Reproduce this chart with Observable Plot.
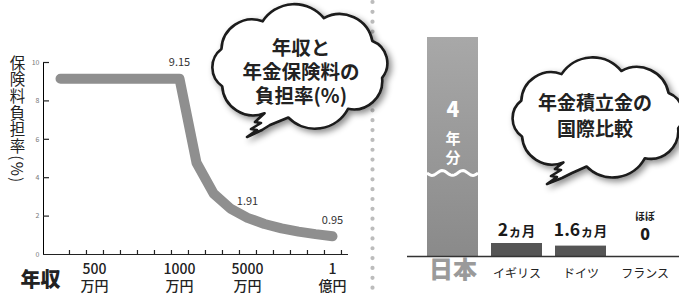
<!DOCTYPE html>
<html><head><meta charset="utf-8">
<script src="https://cdn.jsdelivr.net/npm/d3@7"></script>
<script src="https://cdn.jsdelivr.net/npm/@observablehq/plot@0.6"></script>
<style>
html,body{margin:0;padding:0;background:#fff;}
#wrap{position:relative;width:679px;height:294px;overflow:hidden;}
#wrap svg{position:absolute;left:0;top:0;}
#wrap g[aria-label^="y-axis"] text{font-size:7px;fill:#777;}
#ylab{position:absolute;left:9px;top:55px;writing-mode:vertical-rl;text-orientation:mixed;font-family:"Noto Sans CJK JP","Noto Sans",sans-serif;font-size:15.5px;line-height:15.5px;letter-spacing:1.2px;color:#222;white-space:nowrap;}
</style></head><body><div id="wrap"></div>
<script>
// ---- data: left chart (annual income in 万円 vs pension premium burden %) ----
const incomes = [300,400,500,600,700,800,900,1000,2000,3000,4000,5000,6000,7000,8000,9000,10000];
const rates   = [9.15,9.15,9.15,9.15,9.15,9.15,9.15,9.15,4.78,3.18,2.39,1.91,1.59,1.36,1.19,1.06,0.95];
const yTicks = [0,2,4,6,8,10];
const incomeLabelValues = [500,1000,5000,10000];
const incomeLabelTexts  = ["500\n万円","1000\n万円","5000\n万円","1\n億円"];
const rateLabelIncomes = [1000,5000,10000];
const rateLabelTexts   = ["9.15","1.91","0.95"];
const leftTitle = ["年収と","年金保険料の","負担率(%)"];
const leftYLabel = "保険料負担率(%)";
const leftXLabel = "年収";

// ---- data: right chart (pension reserves, months of benefits) ----
const countries = ["日本","イギリス","ドイツ","フランス"];
const reserveMonths = [48, 2, 1.6, 0];
const reserveNumber = ["4","2","1.6","0"];
const reserveUnit   = ["年分","ヵ月","ヵ月",""];
const reservePrefix = ["","","","ほぼ"];
const rightTitle = ["年金積立金の","国際比較"];
const shownMonths = 33.7; // axis is broken above this

const FONT = '"Noto Sans CJK JP","Noto Sans",sans-serif';
const W = 679, H = 294;
const NS = "http://www.w3.org/2000/svg";
function el(tag, attrs = {}, text) {
  const e = document.createElementNS(NS, tag);
  for (const k in attrs) e.setAttribute(k, attrs[k]);
  if (text != null) e.textContent = text;
  return e;
}
function bw(s) { return typeof s.bandwidth === "function" ? s.bandwidth() : (s.bandwidth || 0); }

// ---------------- left plot ----------------
const leftData = incomes.map((x, i) => ({income: x, rate: rates[i]}));
const L = {left: 43, right: W - 348, top: 62, bottom: 40};
const frameW = W - L.left - L.right, frameH = H - L.top - L.bottom;

const left = Plot.plot({
  width: W, height: H,
  marginLeft: L.left, marginRight: L.right, marginTop: L.top, marginBottom: L.bottom,
  style: {background: "transparent", fontFamily: FONT, overflow: "visible"},
  x: {type: "point", domain: incomes, padding: 0.5, axis: null},
  y: {domain: [0, 10], ticks: yTicks, tickSize: 0, tickPadding: 4, line: true, label: null},
  marks: [
    Plot.ruleY([0], {stroke: "#222", strokeWidth: 1.2}),
    Plot.tickY(yTicks.slice(1), {y: d => d, stroke: "#222", strokeWidth: 1.2, insetRight: frameW - 6}),
    Plot.tickX(incomes, {x: d => d, dx: frameW / incomes.length / 2, stroke: "#222", strokeWidth: 1.2, insetTop: frameH - 4}),
    Plot.line(leftData, {x: "income", y: "rate", stroke: "#8f8f8f", strokeWidth: 10, strokeLinecap: "round", strokeLinejoin: "round"}),
    Plot.text(rateLabelIncomes, {x: d => d, y: d => rates[incomes.indexOf(d)], text: (d, i) => rateLabelTexts[i], dy: -16, fontSize: 11, fill: "#333"}),
    Plot.text(incomeLabelValues, {x: d => d, text: (d, i) => incomeLabelTexts[i], frameAnchor: "bottom", lineAnchor: "top", dy: 8, fontSize: 14, lineHeight: 1.2, fill: "#222", fontWeight: 500}),
    Plot.text([leftXLabel], {text: d => d, frameAnchor: "bottom-left", dx: -23, dy: 32, textAnchor: "start", fontSize: 20, fontWeight: 900, fill: "#222"})
  ]
});

// ---------------- right plot ----------------
function cloud(cx, cy, rx, ry, a0, a1, nb, tail) {
  const pt = a => [cx + rx * Math.cos(a * Math.PI / 180), cy + ry * Math.sin(a * Math.PI / 180)];
  let [px, py] = pt(a0);
  let d = `M${px},${py}`;
  for (let k = 1; k <= nb; k++) {
    const [x, y] = pt(a0 + (a1 - a0) * k / nb);
    const r = Math.hypot(x - px, y - py) * 0.62;
    d += ` A${r},${r} 0 0 1 ${x},${y}`;
    px = x; py = y;
  }
  for (const [x, y] of tail) d += ` L${x},${y}`;
  return d + " Z";
}

const defsMark = () => {
  const defs = el("defs");
  const lg = el("linearGradient", {id: "jpGrad", x1: 0, y1: 0, x2: 0, y2: 1});
  lg.appendChild(el("stop", {offset: "0%", "stop-color": "#a8a8a8"}));
  lg.appendChild(el("stop", {offset: "100%", "stop-color": "#8a8a8a"}));
  defs.appendChild(lg);
  const f = el("filter", {id: "bshadow", x: "-20%", y: "-20%", width: "150%", height: "150%"});
  f.appendChild(el("feDropShadow", {dx: 3, dy: 3, stdDeviation: 3, "flood-color": "#000", "flood-opacity": 0.45}));
  defs.appendChild(f);
  return defs;
};

const dotsMark = () => el("line", {x1: 372.5, x2: 372.5, y1: 2, y2: 294, stroke: "#bcbcbc", "stroke-width": 4.2, "stroke-linecap": "round", "stroke-dasharray": "0 9.85"});

const waveMark = (index, scales) => {
  const x = scales.x, x0 = x(countries[0]), w = bw(x), y0 = 173;
  let d = `M${x0},${y0}`;
  for (let t = 0; t <= w; t += 1) d += ` L${x0 + t},${y0 + 2.4 * Math.sin(t / w * 2 * Math.PI * 2.5)}`;
  return el("path", {d, fill: "none", stroke: "white", "stroke-width": 3});
};

const valueLabelMark = (index, scales) => {
  const x = scales.x, w = bw(x);
  const g = el("g", {"font-family": FONT, fill: "#1a1a1a", "font-weight": "bold", "text-anchor": "middle"});
  countries.forEach((c, i) => {
    if (i === 0 || reserveUnit[i] === "") return;
    const t = el("text", {x: x(c) + w / 2, y: 235.5});
    t.appendChild(el("tspan", {"font-size": 17.5}, reserveNumber[i]));
    t.appendChild(el("tspan", {"font-size": 13.5}, reserveUnit[i]));
    g.appendChild(t);
  });
  return g;
};

const bubblesMark = () => {
  const g = el("g");
  const p1 = cloud(300, 67, 84, 51, 115, 458, 8,
    [[270, 125], [262, 130], [247, 137], [257, 130], [251, 129], [261, 123], [255, 122]]);
  const p2 = cloud(598, 118, 82, 49, 115, 458, 8,
    [[572, 173], [562, 178], [547, 184], [557, 177], [551, 176], [561, 170], [555, 169]]);
  for (const d of [p1, p2]) g.appendChild(el("path", {d, fill: "white", stroke: "#1a1a1a", "stroke-width": 2.6, "stroke-linejoin": "round", filter: "url(#bshadow)"}));
  const tg = el("g", {"font-family": FONT, "font-weight": "bold", fill: "#222", "text-anchor": "middle", "dominant-baseline": "central"});
  leftTitle.forEach((s, i) => tg.appendChild(el("text", {x: 301, y: 46.5 + i * 24, "font-size": 19.5}, s)));
  rightTitle.forEach((s, i) => tg.appendChild(el("text", {x: 595, y: 101 + i * 26, "font-size": 19}, s)));
  g.appendChild(tg);
  return g;
};

const right = Plot.plot({
  width: W, height: H,
  marginLeft: 407, marginRight: 0, marginTop: 37, marginBottom: 38,
  style: {background: "transparent", fontFamily: FONT, overflow: "visible"},
  x: {type: "band", domain: countries, paddingInner: 0.2, paddingOuter: 0.225, align: 0.69, axis: null},
  y: {domain: [0, shownMonths], clamp: true, axis: null},
  marks: [
    defsMark,
    dotsMark,
    Plot.barY(countries.slice(0, 1), {x: d => d, y: d => reserveMonths[countries.indexOf(d)], fill: "url(#jpGrad)"}),
    Plot.barY(countries.slice(1), {x: d => d, y: d => reserveMonths[countries.indexOf(d)], fill: "#555"}),
    waveMark,
    Plot.ruleY([0], {stroke: "#333", strokeWidth: 1.5}),
    Plot.text(countries.slice(0, 1), {x: d => d, text: () => reserveNumber[0], frameAnchor: "top", dy: 64.5, fontSize: 21, fontWeight: 900, fill: "white"}),
    Plot.text(countries.slice(0, 1), {x: d => d, text: () => reserveUnit[0].split("").join("\n"), frameAnchor: "top", dy: 93.5, lineHeight: 1.23, fontSize: 15, fontWeight: "bold", fill: "white"}),
    Plot.text(countries.slice(0, 1), {x: d => d, text: d => d, frameAnchor: "bottom", dy: 21, fontSize: 24, fontWeight: 900, fill: "#9a9a9a"}),
    Plot.text(countries.slice(1), {x: d => d, text: d => d, frameAnchor: "bottom", dy: 21, fontSize: 12, fill: "#222"}),
    Plot.text(countries.slice(3), {x: d => d, text: d => reservePrefix[countries.indexOf(d)], frameAnchor: "bottom", dy: -37, fontSize: 10, fontWeight: "bold", fill: "#222"}),
    Plot.text(countries.slice(3), {x: d => d, text: d => reserveNumber[countries.indexOf(d)], frameAnchor: "bottom", dy: -16.5, fontSize: 16, fontWeight: 900, fill: "#1a1a1a"}),
    valueLabelMark,
    bubblesMark
  ]
});

const wrap = document.getElementById("wrap");
wrap.appendChild(left);
wrap.appendChild(right);
const ylab = document.createElement("div");
ylab.id = "ylab";
ylab.textContent = leftYLabel;
wrap.appendChild(ylab);
</script>
</body></html>
